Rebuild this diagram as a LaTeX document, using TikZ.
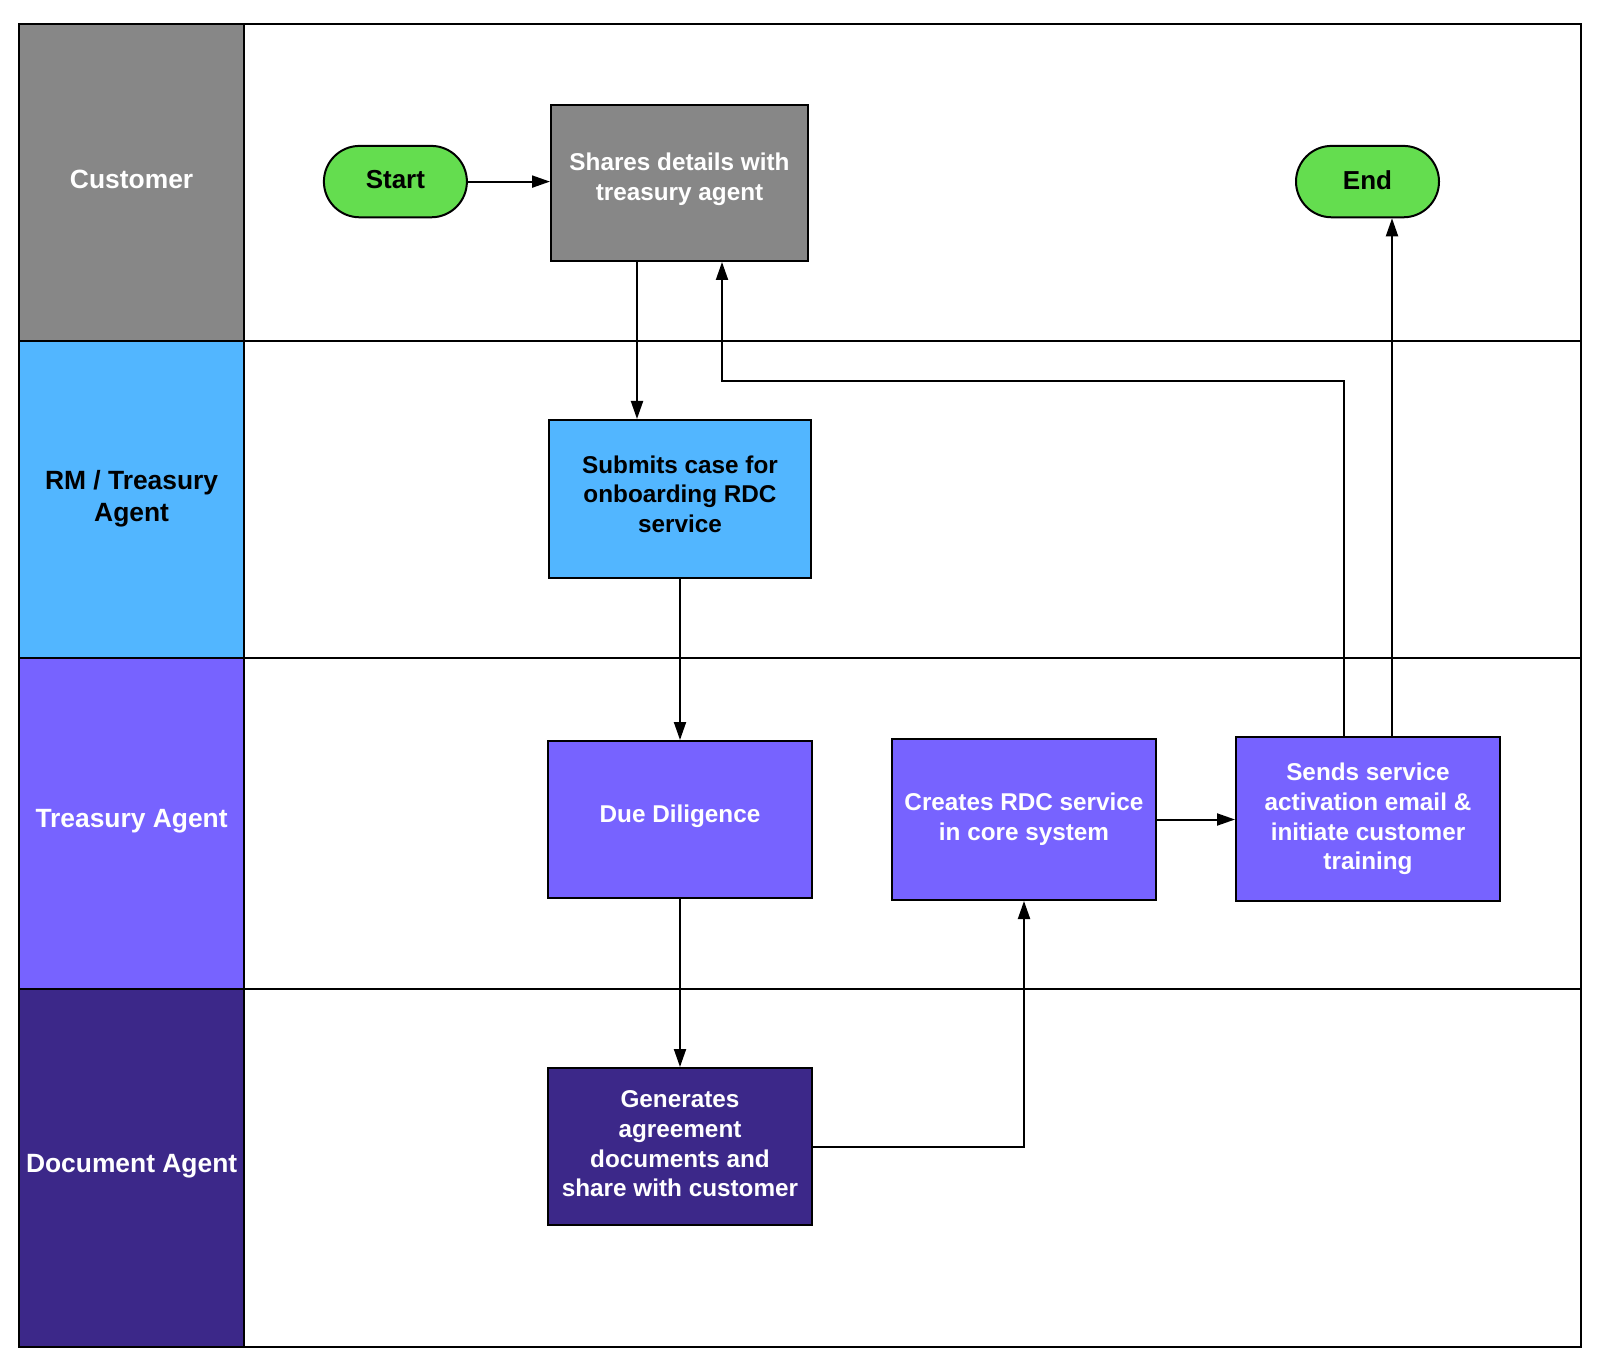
\documentclass[tikz,border=0pt]{standalone}
\usepackage{fontspec}
\setmainfont{Liberation Sans}
\usetikzlibrary{arrows.meta,shapes.misc}
\definecolor{custgray}{HTML}{878787}
\definecolor{rmblue}{HTML}{52B6FF}
\definecolor{tapurple}{HTML}{7763FF}
\definecolor{docpurple}{HTML}{3C2889}
\definecolor{termgreen}{HTML}{64DD4F}
\begin{document}
\begin{tikzpicture}[x=0.5pt,y=-0.5pt,
  lanelabel/.style={font=\fontsize{13.2}{15.8}\selectfont\bfseries, align=center, inner sep=0pt},
  stepbox/.style={draw=black, line width=1pt, font=\fontsize{12.15}{14.8}\selectfont\bfseries, align=center, inner sep=0pt},
  term/.style={rounded rectangle, draw=black, line width=1pt, fill=termgreen, font=\fontsize{13}{15}\selectfont\bfseries, inner sep=0pt, minimum width=71.5pt, minimum height=35.7pt, text depth=2pt},
  arr/.style={-{Triangle[length=9pt,width=6pt]}, line width=1pt},
  laneline/.style={line width=1pt}]
\useasboundingbox (0,0) rectangle (1600,1369);
% lane headers
\fill[custgray] (19.4,24.5) rectangle (243.9,340.8);
\fill[rmblue] (19.4,340.8) rectangle (243.9,658.2);
\fill[tapurple] (19.4,658.2) rectangle (243.9,988.8);
\fill[docpurple] (19.4,988.8) rectangle (243.9,1347);
\draw[laneline] (19.4,24.5) rectangle (1580.6,1347);
\draw[laneline] (243.9,24.5) -- (243.9,1347);
\draw[laneline] (19.4,340.8) -- (1580.6,340.8);
\draw[laneline] (19.4,658.2) -- (1580.6,658.2);
\draw[laneline] (19.4,988.8) -- (1580.6,988.8);
\node[lanelabel, text=white] (lcust) at (131.6,179) {Customer};
\node[lanelabel, text=black] (lrm) at (131.6,499) {RM / Treasury\\Agent};
\node[lanelabel, text=white] (lta) at (131.6,821) {Treasury Agent};
\node[lanelabel, text=white] (ldoc) at (131.6,1166) {Document Agent};
% nodes
\node[term] (start) at (395.4,181.6) {Start};
\node[term] (end) at (1367.5,181.6) {End};
\node[stepbox, fill=custgray, text=white, minimum width=128.5pt, minimum height=78pt, text depth=6.6pt] (shares) at (679.5,183) {Shares details with\\treasury agent};
\node[stepbox, fill=rmblue, text=black, minimum width=131pt, minimum height=79pt, text depth=5pt] (submits) at (680,499) {Submits case for\\onboarding RDC\\service};
\node[stepbox, fill=tapurple, text=white, minimum width=132pt, minimum height=78.5pt, text depth=5.6pt] (dd) at (680,819.5) {Due Diligence};
\node[stepbox, fill=tapurple, text=white, minimum width=132pt, minimum height=80.5pt] (creates) at (1024,819.5) {Creates RDC service\\in core system};
\node[stepbox, fill=tapurple, text=white, minimum width=132pt, minimum height=82pt] (sends) at (1368,819) {Sends service\\activation email \&\\initiate customer\\training};
\node[stepbox, fill=docpurple, text=white, minimum width=132pt, minimum height=78.5pt, text depth=2.7pt] (gen) at (680,1146.5) {Generates\\agreement\\documents and\\share with customer};
% connectors
\coordinate (ax) at (637,0);
\coordinate (rx1) at (1344,381);
\coordinate (rx2) at (722,381);
\coordinate (ex) at (1392,0);
\draw[arr] (start.east) -- (start.east -| shares.west);
\draw[arr] (shares.south -| ax) -- (submits.north -| ax);
\draw[arr] (submits.south) -- (dd.north);
\draw[arr] (dd.south) -- (gen.north);
\draw[arr] (gen.east) -| (creates.south);
\draw[arr] (creates.east) -- (creates.east -| sends.west);
\draw[arr] (sends.north -| rx1) -- (rx1) -- (rx2) -- (shares.south -| rx2);
\draw[arr] (sends.north -| ex) -- (end.south -| ex);
\end{tikzpicture}
\end{document}
